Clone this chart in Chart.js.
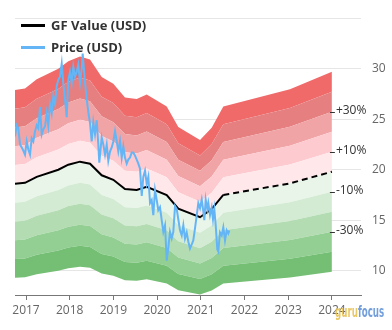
<!DOCTYPE html>
<html>
<head>
<meta charset="utf-8">
<script src="https://cdn.jsdelivr.net/npm/chart.js@4.4.0/dist/chart.umd.min.js"></script>
<style>
  html, body { margin: 0; padding: 0; background: #fff; }
  #wrap { position: relative; width: 392px; height: 330px; }
  #legend { position: absolute; left: 21px; top: 14px; font: bold 13px 'Open Sans', sans-serif; color: #333; }
  #legend .item { height: 22px; display: flex; align-items: center; }
  #legend .swatch { width: 24px; height: 3px; margin-right: 6px; }
  #logo { position: absolute; left: 335px; top: 303px; font: bold 16px 'DejaVu Sans Condensed', 'DejaVu Sans', sans-serif; line-height: 18px; opacity: 0.85; white-space: nowrap; transform-origin: 0 0; }
</style>
</head>
<body>
<div id="wrap">
  <canvas id="gfChart" width="392" height="330"></canvas>
  <div id="legend">
    <div class="item"><span class="swatch" style="background:#000"></span>GF Value (USD)</div>
    <div class="item"><span class="swatch" style="background:#64b5f6"></span>Price (USD)</div>
  </div>
  <div id="logo"><span style="color:#e6bf4a">guru</span><span style="color:#5a8ed6">focus</span></div>
</div>
<script>
// GF Value history (decimal years) and value in USD
const gfDates  = [2016.748, 2016.977, 2017.245, 2017.739, 2017.968, 2018.236, 2018.465, 2018.732, 2018.998,
                  2019.265, 2019.533, 2019.762, 2020.220, 2020.485, 2020.982, 2021.249, 2021.515];
const gfValues = [18.6, 18.7, 19.3, 20.0, 20.5, 20.8, 20.6, 19.45, 19.0,
                  18.1, 18.0, 18.3, 17.5, 16.15, 15.3, 16.1, 17.5];

// GF Value estimate (dashed), starts at the last historical point
const estDates  = [2021.515, 2023.04, 2024.0];
const estValues = [17.5, 18.65, 19.8];

// share price
const priceDates = [
  2016.748, 2016.787, 2016.824, 2016.863, 2016.902, 2016.938, 2016.977, 2017.016, 2017.053, 2017.092,
  2017.130, 2017.167, 2017.206, 2017.245, 2017.281, 2017.320, 2017.359, 2017.396, 2017.435, 2017.474,
  2017.510, 2017.549, 2017.588, 2017.625, 2017.664, 2017.703, 2017.739, 2017.778, 2017.817, 2017.854,
  2017.892, 2017.931, 2017.968, 2018.007, 2018.046, 2018.082, 2018.121, 2018.160, 2018.197, 2018.236,
  2018.275, 2018.297, 2018.350, 2018.389, 2018.426, 2018.465, 2018.503, 2018.540, 2018.579, 2018.618,
  2018.654, 2018.677, 2018.732, 2018.769, 2018.808, 2018.847, 2018.883, 2018.922, 2018.961, 2018.998,
  2019.037, 2019.076, 2019.112, 2019.151, 2019.190, 2019.227, 2019.265, 2019.304, 2019.341, 2019.380,
  2019.419, 2019.455, 2019.494, 2019.533, 2019.570, 2019.609, 2019.648, 2019.684, 2019.723, 2019.762,
  2019.799, 2019.838, 2019.876, 2019.913, 2019.952, 2019.991, 2020.027, 2020.066, 2020.105, 2020.142,
  2020.181, 2020.220, 2020.256, 2020.295, 2020.334, 2020.371, 2020.410, 2020.449, 2020.485, 2020.524,
  2020.563, 2020.600, 2020.638, 2020.677, 2020.714, 2020.753, 2020.792, 2020.828, 2020.867, 2020.906,
  2020.943, 2020.982, 2021.021, 2021.057, 2021.080, 2021.112, 2021.149, 2021.172, 2021.211, 2021.249,
  2021.279, 2021.309, 2021.341, 2021.378, 2021.400, 2021.439, 2021.478, 2021.515, 2021.554, 2021.593,
  2021.629, 2021.652];
const priceValues = [
  23.3, 24.4, 24.1, 22.5, 22.2, 21.9, 21.5, 22.8, 22.0, 21.5,
  23.1, 22.8, 23.8, 24.4, 24.1, 26.2, 23.5, 24.0, 24.3, 25.6,
  24.4, 26.5, 25.6, 27.3, 26.5, 28.3, 28.9, 29.2, 30.5, 28.5,
  27.0, 25.2, 28.9, 29.7, 28.6, 30.2, 29.2, 29.7, 30.4, 28.6,
  30.0, 31.5, 28.6, 27.0, 25.7, 24.6, 22.8, 24.7, 23.5, 24.9,
  22.5, 20.7, 23.2, 22.5, 21.5, 22.5, 20.9, 21.8, 22.2, 22.8,
  23.8, 22.8, 21.8, 22.8, 21.2, 22.3, 21.2, 20.6, 21.0, 21.2,
  21.7, 21.7, 21.4, 21.0, 20.6, 20.1, 17.4, 19.3, 19.9, 18.6,
  19.3, 16.7, 17.0, 15.5, 18.0, 17.0, 16.0, 16.3, 15.0, 13.85,
  14.5, 11.0, 12.3, 13.85, 13.2, 13.85, 16.4, 16.1, 15.1, 14.0,
  13.5, 14.5, 13.2, 13.8, 12.9, 12.2, 12.6, 13.0, 14.2, 15.45,
  16.7, 16.2, 17.05, 15.9, 15.0, 17.05, 16.1, 16.7, 15.5, 16.25,
  15.1, 16.1, 14.5, 12.1, 11.9, 13.8, 13.5, 14.3, 13.0, 14.0,
  13.7, 14.0];

// bands around GF Value: -50% .. +50% in 10% steps
const bandFactors = [0.5, 0.6, 0.7, 0.8, 0.9, 1.0, 1.1, 1.2, 1.3, 1.4, 1.5];
const bandColors  = ['#75bf75', '#93cf93', '#b3dcb2', '#d3ead3', '#eaf5ea',
                     '#ffe7ea', '#fdcad0', '#f0a4a5', '#e57f80', '#f06a6a'];
const pctLabels  = ['+30%', '+10%', '-10%', '-30%'];
const pctFactors = [1.3, 1.1, 0.9, 0.7];

const yTicks = [10, 15, 20, 25, 30, 35];
const xTicks = [2017, 2018, 2019, 2020, 2021, 2022, 2023, 2024];

const allDates = gfDates.concat(estDates.slice(1));
const allValues = gfValues.concat(estValues.slice(1));
const toPts = (xs, ys) => xs.map((d, i) => ({ x: d, y: ys[i] }));

const datasets = bandFactors.map((f, i) => ({
    label: 'band' + i,
    data: toPts(allDates, allValues.map(v => v * f)),
    borderWidth: 0,
    pointRadius: 0,
    backgroundColor: i > 0 ? bandColors[i - 1] : 'transparent',
    fill: i > 0 ? '-1' : false,
    order: 10
}));
datasets.push({
    label: 'GF Value (USD)',
    data: toPts(gfDates, gfValues),
    borderColor: '#000', borderWidth: 2, pointRadius: 0, fill: false, order: 2
});
datasets.push({
    label: 'GF Value estimate',
    data: toPts(estDates, estValues),
    borderColor: '#000', borderWidth: 2, borderDash: [6, 4], pointRadius: 0, fill: false, order: 2
});
datasets.push({
    label: 'Price (USD)',
    data: toPts(priceDates, priceValues),
    borderColor: '#64b5f6', borderWidth: 2, pointRadius: 0, fill: false, order: 0
});

// percent labels at the right end of the bands
const bandLabels = {
    id: 'bandLabels',
    afterDatasetsDraw(chart) {
        const { ctx, scales: { x, y } } = chart;
        const lastDate = allDates[allDates.length - 1];
        const lastVal = allValues[allValues.length - 1];
        const px = x.getPixelForValue(lastDate);
        ctx.save();
        ctx.font = '12px "Open Sans", sans-serif';
        ctx.fillStyle = '#333';
        ctx.strokeStyle = '#333';
        ctx.lineWidth = 1;
        ctx.textBaseline = 'alphabetic';
        pctLabels.forEach((lab, i) => {
            const py = Math.round(y.getPixelForValue(lastVal * pctFactors[i])) + 0.5;
            ctx.beginPath();
            ctx.moveTo(px - 2, py);
            ctx.lineTo(px + 3, py);
            ctx.stroke();
            ctx.fillText(lab, px + 4, py + 1);
        });
        ctx.restore();
    }
};

Chart.defaults.font.family = "'Open Sans', sans-serif";
Chart.defaults.font.size = 12;
Chart.defaults.color = '#666';

new Chart(document.getElementById('gfChart'), {
    type: 'line',
    data: { datasets },
    plugins: [bandLabels],
    options: {
        responsive: false,
        animation: false,
        devicePixelRatio: 1,
        layout: { padding: { left: 15, top: 10, right: 0, bottom: 0 } },
        plugins: { legend: { display: false }, tooltip: { enabled: false } },
        elements: { line: { tension: 0 } },
        scales: {
            x: {
                type: 'linear',
                min: 2016.748,
                max: 2024.666,
                afterBuildTicks: axis => { axis.ticks = xTicks.map(v => ({ value: v })); },
                afterFit: axis => { axis.height = 35; },
                ticks: { callback: v => String(v), padding: 3, maxRotation: 0 },
                grid: { drawOnChartArea: false, drawTicks: true, tickLength: 5, color: '#777' },
                border: { color: '#777' }
            },
            y: {
                position: 'right',
                min: 7.6,
                max: 35,
                afterBuildTicks: axis => { axis.ticks = yTicks.map(v => ({ value: v })); },
                afterFit: axis => { axis.width = 31; },
                ticks: { callback: v => (v === 35 ? '' : String(v)), padding: 11, color: '#666' },
                grid: { color: '#e6e6e6', drawTicks: false },
                border: { display: false }
            }
        }
    }
});

// squeeze the watermark into its slot
const logo = document.getElementById('logo');
logo.style.transform = 'scaleX(' + (49 / logo.scrollWidth).toFixed(3) + ')';
</script>
</body>
</html>
